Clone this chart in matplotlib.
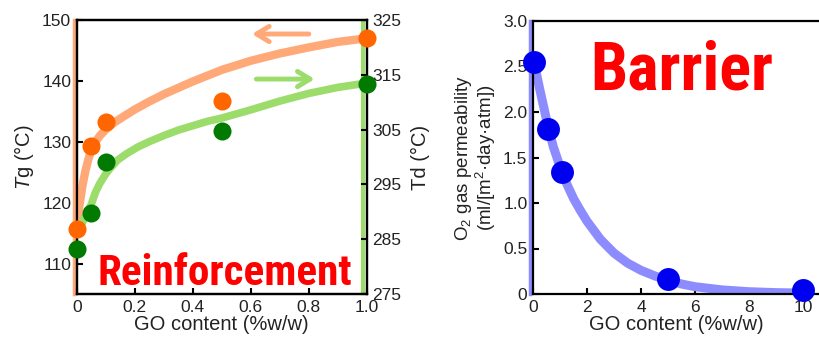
import matplotlib
matplotlib.use("Agg")
import matplotlib.pyplot as plt
from matplotlib import font_manager
from matplotlib.font_manager import FontProperties

# Data
go_left = [0.0, 0.05, 0.1, 0.5, 1.0]
tg = [115.7, 129.3, 133.2, 136.7, 147.1]
td = [283.2, 289.8, 299.0, 304.8, 313.3]

tg_fit_x = [0.0, 0.005, 0.01, 0.02, 0.03, 0.04, 0.05, 0.065, 0.08, 0.1, 0.125, 0.15, 0.2, 0.25, 0.3, 0.4, 0.5, 0.6, 0.7, 0.8, 0.9, 1.0]
tg_fit_y = [116.0, 118.0, 119.7, 122.8, 125.2, 127.1, 128.6, 130.0, 131.0, 132.0, 133.0, 133.8, 135.3, 136.6, 137.8, 139.9, 141.8, 143.3, 144.5, 145.5, 146.4, 147.0]

td_fit_x = [0.015, 0.025, 0.035, 0.05, 0.065, 0.08, 0.1, 0.115, 0.14, 0.172, 0.21, 0.25, 0.3, 0.35, 0.45, 0.5, 0.6, 0.7, 0.8, 0.9, 1.0]
td_fit_y = [287.5, 288.6, 289.7, 291.3, 293.6, 295.2, 296.9, 297.9, 299.4, 300.6, 301.8, 302.8, 303.9, 304.9, 306.5, 307.1, 308.6, 310.2, 311.6, 312.7, 313.5]

go_right = [0.05, 0.57, 1.06, 5.0, 10.0]
o2_perm = [2.55, 1.81, 1.34, 0.16, 0.04]

o2_fit_x = [0.0, 0.25, 0.55, 0.75, 1.0, 1.25, 1.5, 1.75, 2.0, 2.5, 3.0, 3.5, 4.0, 4.5, 5.0, 5.5, 6.0, 7.0, 8.0, 9.0, 10.0]
o2_fit_y = [2.60, 2.25, 1.85, 1.62, 1.40, 1.21, 1.05, 0.92, 0.80, 0.60, 0.45, 0.34, 0.26, 0.20, 0.15, 0.11, 0.08, 0.045, 0.025, 0.015, 0.01]

left_xticks = [0, 0.2, 0.4, 0.6, 0.8, 1.0]
left_xlabels = ["0", "0.2", "0.4", "0.6", "0.8", "1.0"]
tg_ticks = [110, 120, 130, 140, 150]
td_ticks = [275, 285, 295, 305, 315, 325]
right_xticks = [0, 2, 4, 6, 8, 10]
o2_ticks = [0, 0.5, 1.0, 1.5, 2.0, 2.5, 3.0]
o2_labels = ["0", "0.5", "1.0", "1.5", "2.0", "2.5", "3.0"]


def narrowest_bold():
    # pick the most condensed bold sans face that is installed
    ok = ("Liberation Sans", "Roboto", "Noto Sans", "Open Sans", "Lato", "Inter", "DejaVu Sans")
    best, best_r = None, None
    for f in font_manager.fontManager.ttflist:
        if not f.name.startswith(ok):
            continue
        if f.name.startswith("Noto Sans") and f.name != "Noto Sans" and \
                not any(k in f.name for k in ("Condensed", "Narrow")):
            continue
        if any(k in f.name for k in ("Mono", "Serif", "CJK", "Math", "Display")):
            continue
        w = f.weight if isinstance(f.weight, int) else {"bold": 700}.get(f.weight, 400)
        if w != 700 or f.style != "normal":
            continue
        try:
            ft = font_manager.get_font(f.fname)
            ft.set_size(40, 72)
            ft.set_text("Reinforcement")
            wd = ft.get_width_height()[0]
            ft.set_text("H")
            ht = ft.get_width_height()[1]
        except Exception:
            continue
        if ht <= 0:
            continue
        r = wd / ht
        if best_r is None or r < best_r:
            best, best_r = f.fname, r
    if best is None:
        return FontProperties(family="Liberation Sans", weight="bold")
    return FontProperties(fname=best)


plt.rcParams["font.family"] = ["Liberation Sans", "DejaVu Sans"]
plt.rcParams["mathtext.fontset"] = "custom"
plt.rcParams["mathtext.rm"] = "Liberation Sans"
plt.rcParams["mathtext.it"] = "Liberation Sans:italic"

TXT = "#222222"
ORANGE = "#FF6600"
ORANGE_L = "#FFA878"
GREEN = "#007A00"
GREEN_L = "#9BDC6A"
BLUE = "#0000F0"
BLUE_L = "#8C8CFF"

W, H = 819, 340
fig = plt.figure(figsize=(W / 100, H / 100), dpi=100)
big_font = narrowest_bold()

# ---- left panel: Tg / Td ----
ax = fig.add_axes([76.7 / W, 46 / H, 290 / W, 274 / H])
ax2 = ax.twinx()
ax.set_xlim(0, 1)
ax.set_ylim(105, 150)
ax2.set_ylim(275, 325)

# Tg things go on ax2 too (with ax's data transform) so orange dots sit on top
ax2.plot(tg_fit_x, tg_fit_y, color=ORANGE_L, lw=6, solid_capstyle="round",
         solid_joinstyle="round", zorder=2, transform=ax.transData)
ax2.plot(td_fit_x, td_fit_y, color=GREEN_L, lw=5.5, solid_capstyle="round",
         solid_joinstyle="round", zorder=2)
ax2.plot(go_left, td, "o", color=GREEN, ms=13, mec="none", zorder=3, clip_on=False)
ax2.plot(go_left, tg, "o", color=ORANGE, ms=13, mec="none", zorder=4, clip_on=False,
         transform=ax.transData)
ax2.set_ylim(275, 325)

# coloured bands along the axes
ax.axvline(-0.009, color=ORANGE_L, lw=2.5, clip_on=False, zorder=0)
ax.axvline(0.988, color=GREEN_L, lw=3, zorder=0)

ax2.annotate("", xy=(0.595, 147.7), xytext=(0.81, 147.7), xycoords=ax.transData,
             textcoords=ax.transData,
             arrowprops=dict(arrowstyle="->,head_length=0.9,head_width=0.55", lw=3.5, color=ORANGE_L))
ax2.annotate("", xy=(0.83, 140.3), xytext=(0.61, 140.3), xycoords=ax.transData,
             textcoords=ax.transData,
             arrowprops=dict(arrowstyle="->,head_length=0.9,head_width=0.55", lw=3.5, color=GREEN_L))

t_rein = ax2.text(0.073, 0.033, "Reinforcement", transform=ax.transAxes, color="#FF0000",
                  fontproperties=big_font, fontsize=30, ha="left", va="baseline", zorder=5)

ax.set_xticks(left_xticks)
ax.set_xticklabels(left_xlabels)
ax.set_yticks(tg_ticks)
ax2.set_yticks(td_ticks)
for a in (ax, ax2):
    a.tick_params(direction="in", length=4, width=1.5, labelsize=12.5, colors="#000000",
                  labelcolor=TXT, pad=4)
    for s in a.spines.values():
        s.set_linewidth(1.6)
ax.set_xlabel("GO content (%w/w)", fontsize=14.5, color=TXT, labelpad=0)
ax.set_ylabel(r"$\mathit{T}$g (°C)", fontsize=14.5, color=TXT, labelpad=4)
ax2.set_ylabel("Td (°C)", fontsize=14.5, color=TXT, labelpad=7)

# ---- right panel: O2 permeability ----
bx = fig.add_axes([533 / W, 46 / H, (W - 533) / W, 273 / H])
bx.plot(o2_fit_x, o2_fit_y, color=BLUE_L, lw=6.5, solid_capstyle="round",
        solid_joinstyle="round", zorder=2)
bx.plot(go_right, o2_perm, "o", color=BLUE, ms=16.5, mec="none", zorder=3, clip_on=False)
bx.set_xlim(0, (W - 533) / 27.0)
bx.set_ylim(0, 3.0)
bx.axvline(-0.12, color=BLUE_L, lw=2.5, clip_on=False, zorder=0)
bx.spines["right"].set_visible(False)
for s in bx.spines.values():
    s.set_linewidth(1.6)
bx.set_xticks(right_xticks)
bx.set_yticks(o2_ticks)
bx.set_yticklabels(o2_labels)
bx.tick_params(direction="in", length=4, width=1.5, labelsize=12.5, labelcolor=TXT, pad=4)
bx.set_xlabel("GO content (%w/w)", fontsize=14.5, color=TXT, labelpad=0)
bx.set_ylabel("O$_2$ gas permeability\n(ml/[m$^2$·day·atm])", fontsize=13.5, color=TXT,
              labelpad=4, linespacing=0.95)

t_bar = bx.text(0.2, 0.748, "Barrier", transform=bx.transAxes, color="#FF0000",
                fontproperties=big_font, fontsize=40, ha="left", va="baseline")

# scale the two big words so they span the same width as in the reference
fig.canvas.draw()
r = fig.canvas.get_renderer()
for t, target in ((t_rein, 255), (t_bar, 183)):
    wpx = t.get_window_extent(r).width
    t.set_fontsize(t.get_fontsize() * target / wpx)

fig.savefig("out.png", dpi=100)
